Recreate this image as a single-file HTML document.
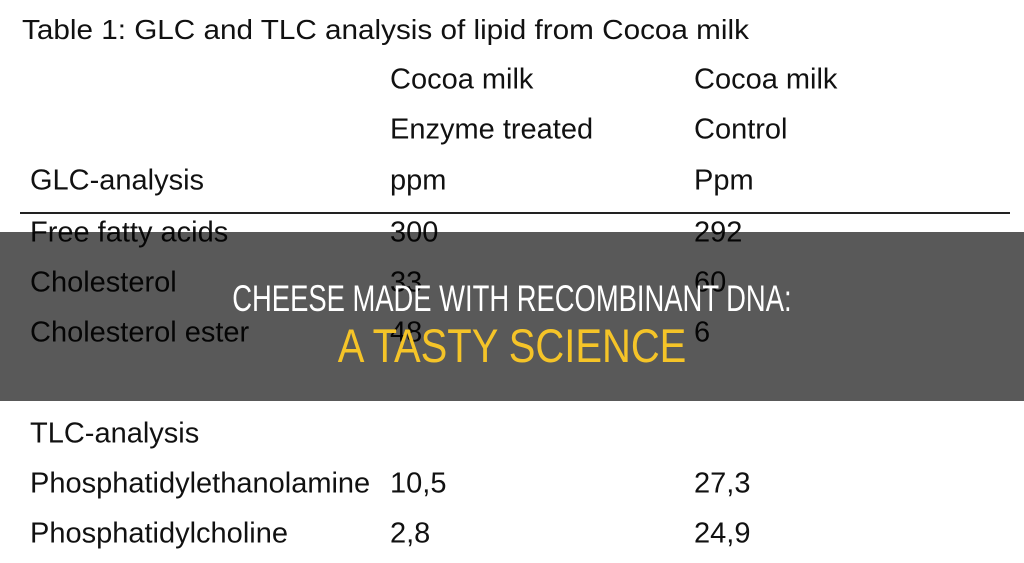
<!DOCTYPE html>
<html><head><style>
body{margin:0;width:1024px;height:563px;background:#fff;position:relative;overflow:hidden;font-family:"Liberation Sans",Arial,sans-serif;}
.t{position:absolute;font-size:29px;color:#111;line-height:1;white-space:nowrap;transform:translateY(-50%);}
.line{position:absolute;left:20px;top:212px;width:990px;height:2px;background:#222;}
.ov{position:absolute;left:0;top:232px;width:1024px;height:169px;background:rgba(0,0,0,0.65);}
.h{position:absolute;left:0;width:1024px;text-align:center;white-space:nowrap;line-height:1;}
.h span{display:inline-block;}
</style></head><body>
<div class="t" style="left:22px;top:30px;font-size:28px;transform:translateY(-50%) scaleX(1.06);transform-origin:left center">Table 1: GLC and TLC analysis of lipid from Cocoa milk</div>
<div class="t" style="left:390px;top:80px">Cocoa milk</div>
<div class="t" style="left:694px;top:80px">Cocoa milk</div>
<div class="t" style="left:390px;top:130px">Enzyme treated</div>
<div class="t" style="left:694px;top:130px">Control</div>
<div class="t" style="left:30px;top:181px">GLC-analysis</div>
<div class="t" style="left:390px;top:181px">ppm</div>
<div class="t" style="left:694px;top:181px">Ppm</div>
<div class="line"></div>
<div class="t" style="left:30px;top:233px">Free fatty acids</div>
<div class="t" style="left:390px;top:233px">300</div>
<div class="t" style="left:694px;top:233px">292</div>
<div class="t" style="left:30px;top:283px">Cholesterol</div>
<div class="t" style="left:390px;top:283px">33</div>
<div class="t" style="left:694px;top:283px">60</div>
<div class="t" style="left:30px;top:333px">Cholesterol ester</div>
<div class="t" style="left:390px;top:333px">48</div>
<div class="t" style="left:694px;top:333px">6</div>
<div class="t" style="left:30px;top:434px">TLC-analysis</div>
<div class="t" style="left:30px;top:484px">Phosphatidylethanolamine</div>
<div class="t" style="left:390px;top:484px">10,5</div>
<div class="t" style="left:694px;top:484px">27,3</div>
<div class="t" style="left:30px;top:534px">Phosphatidylcholine</div>
<div class="t" style="left:390px;top:534px">2,8</div>
<div class="t" style="left:694px;top:534px">24,9</div>
<div class="ov"></div>
<div class="h" style="top:280px;font-size:37px;color:#fff"><span style="transform:scaleX(0.74)">CHEESE MADE WITH RECOMBINANT DNA:</span></div>
<div class="h" style="top:322px;font-size:47px;color:#f5c428"><span style="transform:scaleX(0.85)">A TASTY SCIENCE</span></div>
</body></html>
